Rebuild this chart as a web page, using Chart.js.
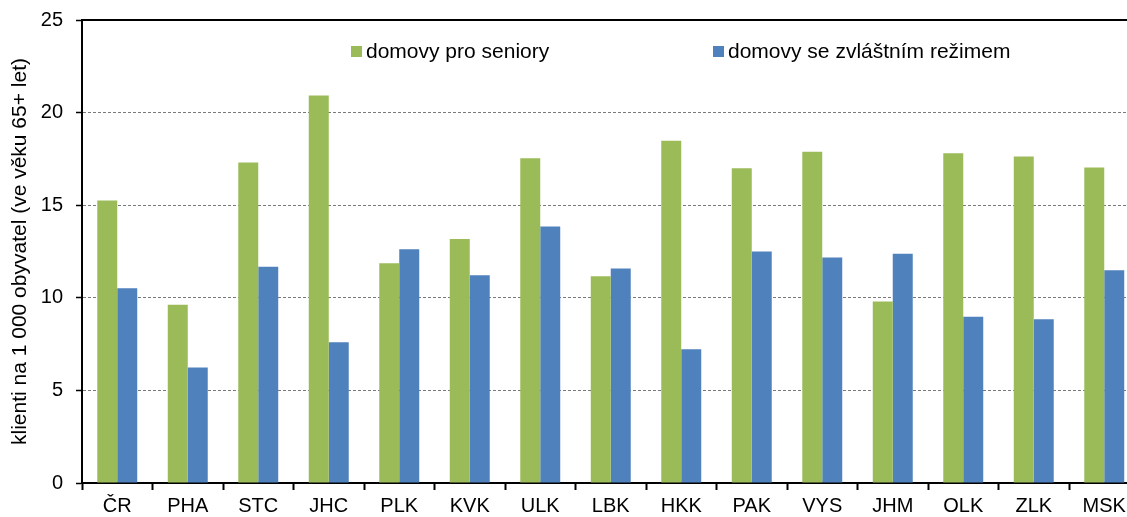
<!DOCTYPE html>
<html>
<head>
<meta charset="utf-8">
<script src="https://cdn.jsdelivr.net/npm/chart.js@4/dist/chart.umd.min.js"></script>
<style>
  html, body { margin: 0; padding: 0; background: #fff; overflow: hidden; }
  canvas { display: block; }
</style>
</head>
<body>
<canvas id="chart" width="1150" height="517"></canvas>
<script>
const regions = ['ČR', 'PHA', 'STC', 'JHC', 'PLK', 'KVK', 'ULK', 'LBK', 'HKK', 'PAK', 'VYS', 'JHM', 'OLK', 'ZLK', 'MSK'];
const seniorHomes = [15.25, 9.63, 17.3, 20.92, 11.87, 13.18, 17.54, 11.17, 18.48, 16.99, 17.89, 9.8, 17.8, 17.63, 17.04];
const specialHomes = [10.52, 6.23, 11.68, 7.6, 12.62, 11.22, 13.85, 11.58, 7.22, 12.5, 12.18, 12.38, 8.98, 8.84, 11.49];
const yTicks = [0, 5, 10, 15, 20, 25];

const FONT = 'Liberation Sans, Arial, sans-serif';

// legend inside the plot area + solid top frame line
const frameAndLegend = {
    id: 'frameAndLegend',
    afterDraw(chart) {
        const { ctx, chartArea } = chart;
        ctx.save();
        ctx.strokeStyle = '#000';
        ctx.lineWidth = 2;
        ctx.beginPath();
        ctx.moveTo(chartArea.left, chartArea.top);
        ctx.lineTo(chartArea.right, chartArea.top);
        ctx.stroke();

        const itemX = [chartArea.left + 269, chartArea.left + 631];
        const y = chartArea.top + 32;
        ctx.font = '21px ' + FONT;
        ctx.textBaseline = 'middle';
        chart.data.datasets.forEach((ds, i) => {
            ctx.fillStyle = ds.backgroundColor;
            ctx.fillRect(itemX[i], y - 6, 11, 11);
            ctx.fillStyle = '#000';
            ctx.fillText(ds.label, itemX[i] + 15, y);
        });
        ctx.restore();
    }
};

new Chart(document.getElementById('chart'), {
    type: 'bar',
    data: {
        labels: regions,
        datasets: [
            { label: 'domovy pro seniory', data: seniorHomes, backgroundColor: '#9BBB59', borderWidth: 0 },
            { label: 'domovy se zvláštním režimem', data: specialHomes, backgroundColor: '#4F81BD', borderWidth: 0 }
        ]
    },
    options: {
        responsive: false,
        animation: false,
        layout: { padding: { top: 19, right: 10.5, left: 0, bottom: 0 } },
        datasets: {
            bar: { categoryPercentage: 0.567, barPercentage: 1.0 }
        },
        plugins: {
            legend: { display: false },
            tooltip: { enabled: false }
        },
        scales: {
            x: {
                grid: {
                    offset: true,
                    drawOnChartArea: false,
                    drawTicks: true,
                    tickLength: 7,
                    color: '#000',
                    tickWidth: 2
                },
                border: { display: true, color: '#000', width: 2 },
                ticks: {
                    color: '#000',
                    padding: 4,
                    font: { family: FONT, size: 20 }
                },
                afterFit(scale) { scale.height = 34; }
            },
            y: {
                min: 0,
                max: 25,
                afterBuildTicks(scale) { scale.ticks = yTicks.map(v => ({ value: v })); },
                grid: {
                    color: '#7a7a7a',
                    lineWidth: 1,
                    tickColor: '#000',
                    tickLength: 6,
                    tickWidth: 1.5
                },
                border: { display: true, color: '#000', width: 2, dash: [3, 2] },
                ticks: {
                    color: '#000',
                    padding: 13,
                    font: { family: FONT, size: 20, lineHeight: 0.7 }
                },
                title: {
                    display: true,
                    text: 'klienti na 1 000 obyvatel (ve věku 65+ let)',
                    color: '#000',
                    font: { family: FONT, size: 21 },
                    padding: { top: 8, bottom: 0 }
                },
                afterFit(scale) { scale.width = 82; }
            }
        }
    },
    plugins: [frameAndLegend]
});
</script>
</body>
</html>
